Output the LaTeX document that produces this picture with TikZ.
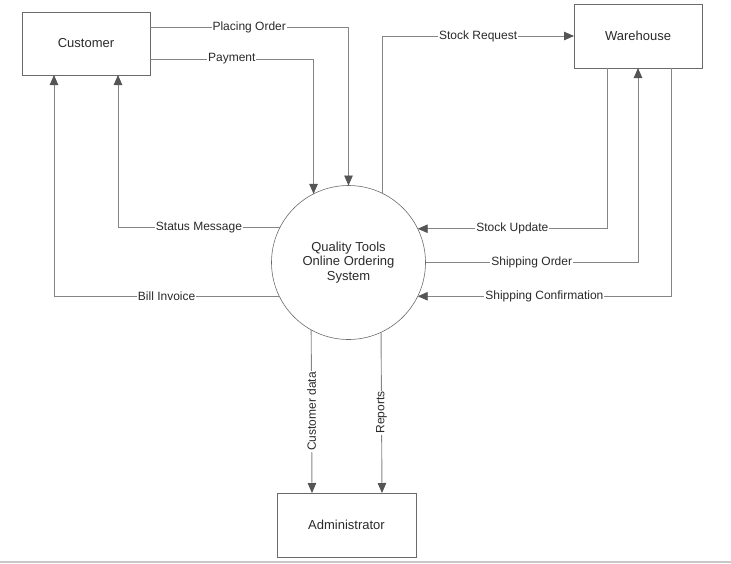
\documentclass[tikz,border=0pt]{standalone}
\usepackage{fontspec}
\setmainfont{Liberation Sans}
\usetikzlibrary{arrows.meta}
\definecolor{linegray}{HTML}{858585}
\definecolor{tipgray}{HTML}{555555}
\definecolor{boxgray}{HTML}{6A6A6A}
\definecolor{txt}{HTML}{2A2A2A}
\definecolor{edgegray}{HTML}{C8C8C8}
\begin{document}
\begin{tikzpicture}[x=1pt,y=-1pt,
  entity/.style={draw=boxgray, line width=0.9pt, rectangle, outer sep=0pt, inner sep=0pt,
    text=txt, font=\fontsize{13}{15}\selectfont},
  process/.style={draw=boxgray, line width=0.6pt, circle, outer sep=0pt, inner sep=0pt,
    minimum size=154pt, text=txt, align=center, font=\fontsize{13}{14.5}\selectfont},
  flow/.style={draw=linegray, line width=0.9pt,
    -{Triangle[length=10pt,width=8.5pt,color=tipgray]}},
  lbl/.style={fill=white, inner sep=1pt, text=txt, font=\fontsize{12}{14}\selectfont}]
\useasboundingbox (0,0) rectangle (731,563);
\draw[edgegray, line width=2pt] (0,561.5) -- (731,561.5);

\node[entity, minimum width=128pt, minimum height=63pt] (cust) at (86,43.5) {Customer};
\node[entity, minimum width=128pt, minimum height=64pt] (ware) at (638,36) {Warehouse};
\node[entity, minimum width=139pt, minimum height=64pt] (admin) at (346.5,525) {Administrator};
\node[process] (sys) at (348.5,262.5) {Quality Tools\\Online Ordering\\System};

% Customer <-> system
\draw[flow] (cust.east |- 0,27) -| node[lbl, pos=0.25] {Placing Order} (sys.north);
\draw[flow] (cust.east |- 0,59) -| node[lbl, pos=0.25] {Payment} (sys.117.45);
\draw[flow] (sys.153.4) -| node[lbl, pos=0.25] {Status Message} (cust.south -| 118,0);
\draw[flow] (sys.206.6) -| node[lbl, pos=0.25] {Bill Invoice} (cust.south -| 54,0);

% Warehouse <-> system
\draw[flow] (sys.64.2) |- node[lbl, pos=0.75] {Stock Request} (ware.west);
\draw[flow] (ware.south -| 607,0) |- node[lbl, pos=0.75] {Stock Update} (sys.26.6);
\draw[flow] (sys.east) -| node[lbl, pos=0.25] {Shipping Order} (ware.south -| 638,0);
\draw[flow] (ware.south -| 671,0) |- node[lbl, pos=0.75] {Shipping Confirmation} (sys.-26.6);

% System -> administrator
\draw[flow] (sys.241.7) -- node[lbl, rotate=90] {Customer data} (admin.north -| 312,0);
\draw[flow] (sys.295.8) -- node[lbl, rotate=90] {Reports} (admin.north -| 382,0);
\end{tikzpicture}
\end{document}
